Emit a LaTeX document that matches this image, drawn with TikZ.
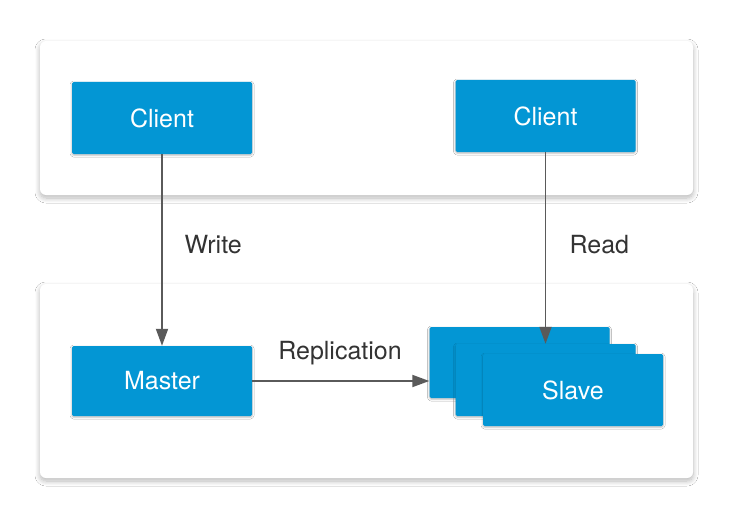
\documentclass[tikz,border=0pt]{standalone}
\usepackage{fontspec}
\setmainfont{TeX Gyre Heros}
\usepackage{tikz}
\usetikzlibrary{arrows.meta}
\usetikzlibrary{shadows.blur}
\definecolor{boxblue}{HTML}{0396D4}
\definecolor{linegray}{HTML}{5A5A5A}
\definecolor{textgray}{HTML}{333333}

\begin{document}
\begin{tikzpicture}[x=1pt, y=-1pt,
  panel/.style={draw=none, fill=white, rounded corners=6pt,
       inner sep=0pt,
       blur shadow={shadow xshift=0pt, shadow yshift=-3pt,
                    shadow blur radius=5pt, shadow blur steps=10,
                    shadow opacity=28}},
  server/.style={fill=boxblue, text=white, rounded corners=1.5pt,
       inner sep=0pt, minimum width=180pt, minimum height=72pt,
       font=\fontsize{25}{30}\selectfont,
       blur shadow={shadow xshift=0pt, shadow yshift=-1pt,
                    shadow blur radius=2pt, shadow opacity=30}},
  flow/.style={draw=linegray, line width=1.8pt,
       -{Triangle[length=17pt, width=12pt]}},
  tag/.style={text=textgray, font=\fontsize{25}{30}\selectfont}]

\useasboundingbox[fill=white] (0,0) rectangle (736,524);

% panels
\node[panel, minimum width=653pt, minimum height=154pt] (apps) at (366.5,118) {};
\node[panel, minimum width=653pt, minimum height=194pt] (cluster) at (366.5,381) {};

% servers
\node[server] (writer) at (162,118) {Client};
\node[server] (reader) at (545.5,116) {Client};
\node[server, minimum height=70pt] (master) at (162,381) {Master};
\node[server, minimum height=71pt] (slaveA) at (519.5,362.5) {};
\node[server] (slaveB) at (545.5,380) {};
\node[server] (slaveC) at (573,390) {Slave};

% connectors
\draw[flow] (writer.south) -- (master.north);
\draw[flow] (reader.south) -- (slaveB.north);
\draw[flow] (master.east) -- (master.east -| slaveA.west);

\node[tag, anchor=base west] (wlabel) at (181,253) {Write};
\node[tag, anchor=base west] (rlabel) at (566,253) {Read};
\node[tag, anchor=base] (replabel) at (340,359) {Replication};
\end{tikzpicture}
\end{document}
